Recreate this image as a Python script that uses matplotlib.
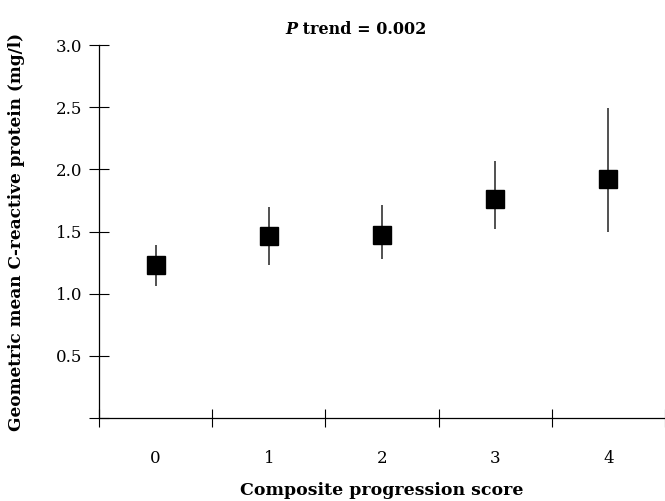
import matplotlib
matplotlib.use("Agg")
import matplotlib.pyplot as plt

# data
scores = [0, 1, 2, 3, 4]
score_labels = ["0", "1", "2", "3", "4"]
crp_mean = [1.23, 1.46, 1.47, 1.765, 1.92]
crp_low = [1.065, 1.23, 1.275, 1.52, 1.50]
crp_high = [1.39, 1.695, 1.715, 2.07, 2.49]
y_ticks = [0, 0.5, 1.0, 1.5, 2.0, 2.5, 3.0]
y_ticklabels = ["", "0.5", "1.0", "1.5", "2.0", "2.5", "3.0"]
x_minor = [-0.5, 0.5, 1.5, 2.5, 3.5, 4.5]

plt.rcParams['font.family'] = ['DejaVu Serif']

fig = plt.figure(figsize=(6.65, 5.01), dpi=100)
ax = fig.add_axes([99 / 665, 83 / 501, 566 / 665, 373 / 501])

yerr = [[m - lo for m, lo in zip(crp_mean, crp_low)],
        [hi - m for m, hi in zip(crp_mean, crp_high)]]
ax.errorbar(scores, crp_mean, yerr=yerr, fmt='s', color='black',
            ecolor='#222222', elinewidth=1.1, capsize=0,
            markersize=13, zorder=3)

ax.set_xlim(-0.5, 4.452)
ax.set_ylim(0, 3.0)

# the category ticks sit between the scores, labels under the scores
ax.set_xticks(x_minor)
ax.set_xticklabels([])
ax.set_xticks(scores, minor=True)
ax.set_xticklabels(score_labels, minor=True)
ax.tick_params(axis='x', which='major', direction='inout', length=13, width=0.8)
ax.tick_params(axis='x', which='minor', length=0, pad=23, labelsize=12)

ax.set_yticks(y_ticks)
ax.set_yticklabels(y_ticklabels)
ax.tick_params(axis='y', direction='inout', length=14, width=0.8, pad=5, labelsize=12)

for side in ['top', 'right']:
    ax.spines[side].set_visible(False)
for side in ['left', 'bottom']:
    ax.spines[side].set_linewidth(0.9)

ax.set_xlabel("Composite progression score", fontsize=12.5, fontweight='bold', labelpad=11)
ax.set_ylabel("Geometric mean C-reactive protein (mg/l)", fontsize=12.2,
              fontweight='bold', labelpad=22)

# title: italic P then the rest
tx = 297 / 665
ty = 1 - 30 / 501
fig.text(tx, ty, "P", fontsize=11.5, fontweight='bold', fontstyle='italic',
         ha='right', va='center')
fig.text(tx, ty, " trend = 0.002", fontsize=11.5, fontweight='bold',
         ha='left', va='center')

fig.savefig("out.png", dpi=100)
